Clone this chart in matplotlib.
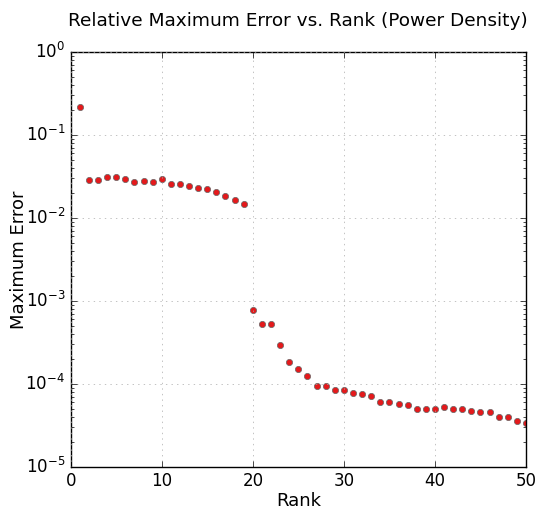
import matplotlib
matplotlib.use("Agg")
import matplotlib.pyplot as plt

# Rank vs relative maximum error
rank = list(range(1, 51))
max_error = [
    0.217, 0.0284, 0.0284, 0.031, 0.031, 0.0292, 0.0267, 0.0279, 0.0274, 0.0292,
    0.0257, 0.0257, 0.0243, 0.023, 0.0222, 0.0207, 0.0184, 0.0166, 0.0148, 7.8e-4,
    5.28e-4, 5.28e-4, 2.92e-4, 1.82e-4, 1.49e-4, 1.25e-4, 9.3e-5, 9.3e-5, 8.4e-5, 8.5e-5,
    7.7e-5, 7.5e-5, 7.2e-5, 6.0e-5, 6.0e-5, 5.74e-5, 5.6e-5, 5.0e-5, 5.0e-5, 5.0e-5,
    5.19e-5, 5.0e-5, 4.9e-5, 4.64e-5, 4.5e-5, 4.5e-5, 3.97e-5, 3.95e-5, 3.6e-5, 3.39e-5,
]

plt.style.use("classic")
plt.rcParams["mathtext.fontset"] = "dejavusans"
fig = plt.figure(figsize=(5.38, 5.13), dpi=100)
ax = fig.add_axes([0.1314, 0.0903, 0.8463, 0.8084])

ax.semilogy(rank, max_error, "o", color="#e31a1c", markeredgecolor="#666666",
            markeredgewidth=0.5, markersize=4.5)

ax.set_xlim(0, 50)
ax.set_ylim(1e-5, 1e0)
ax.grid(True, color="#aaaaaa", linestyle=":")
ax.set_title("Relative Maximum Error vs. Rank (Power Density)", fontsize=13.3, pad=19)
ax.set_xlabel("Rank", fontsize=13, labelpad=1)
ax.set_ylabel("Maximum Error", fontsize=13, labelpad=-2)
ax.tick_params(labelsize=12)

fig.savefig("out.png", dpi=100, facecolor="white")
